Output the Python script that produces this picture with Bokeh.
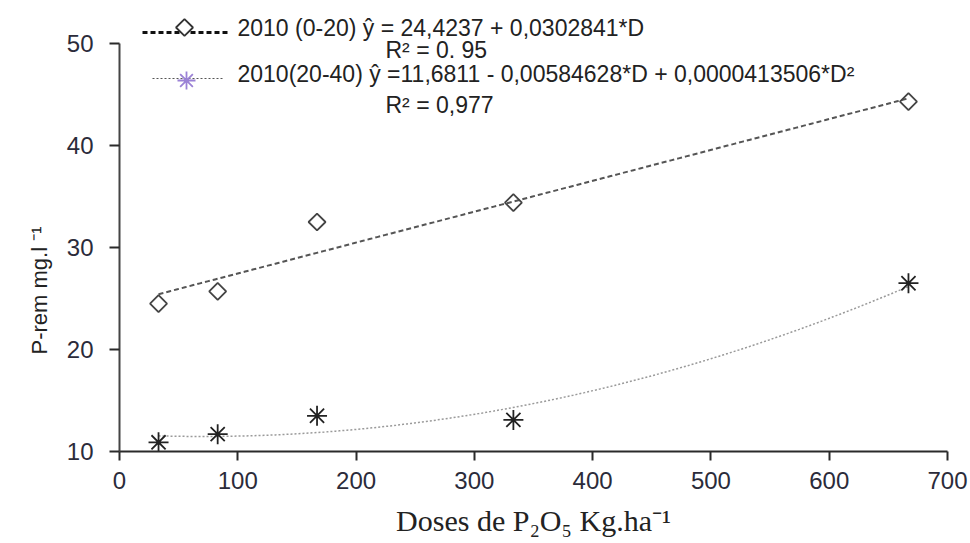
import numpy as np
from bokeh.plotting import figure
from bokeh.models import Range1d, FixedTicker, Title
from bokeh.embed import file_html
from bokeh.resources import INLINE
from bokeh.core.properties import value

# ---- data ----
doses = [33, 83, 167, 333, 667]
prem_0_20 = [24.5, 25.7, 32.5, 34.4, 44.3]
prem_20_40 = [10.9, 11.7, 13.5, 13.1, 26.5]
lin_coef = [24.4237, 0.0302841]                     # y = a + b*D
quad_coef = [11.6811, -0.00584628, 0.0000413506]    # y = a + b*D + c*D^2
x_ticks = [0, 100, 200, 300, 400, 500, 600, 700]
y_ticks = [10, 20, 30, 40, 50]
leg1 = "2010 (0-20) ŷ = 24,4237 + 0,0302841*D"
leg1_r2 = "R² = 0. 95"
leg2 = "2010(20-40) ŷ =11,6811 - 0,00584628*D + 0,0000413506*D²"
leg2_r2 = "R² = 0,977"
x_title = "Doses de P₂O₅ Kg.ha⁻¹"
y_title = "P-rem mg.l ⁻¹"

# ---- layout (pixels) ----
W, H = 970, 543
PX_L, PX_R = 119, 947      # x=0 and x=700
PY_50, PY_10 = 43, 451     # y=50 and y=10
ppu_y = (PY_10 - PY_50) / 40.0
y_top = 10 + PY_10 / ppu_y

def dx(px):
    return (px - PX_L) / (PX_R - PX_L) * 700.0

def dy(py):
    return 10 + (PY_10 - py) / ppu_y

p = figure(width=W, height=H, x_range=Range1d(0, 700), y_range=Range1d(10, y_top),
           output_backend="svg", toolbar_location=None,
           min_border_left=PX_L, min_border_right=W - PX_R,
           min_border_top=0, min_border_bottom=H - PY_10)
p.outline_line_color = None
p.xgrid.visible = False
p.ygrid.visible = False
p.background_fill_color = "white"
p.border_fill_color = "white"

font = "Liberation Sans"
for ax in (p.xaxis[0], p.yaxis[0]):
    ax.axis_line_color = "#2a2a2a"
    ax.axis_line_width = 2
    ax.major_tick_line_color = "#2a2a2a"
    ax.major_tick_line_width = 2
    ax.major_tick_in = 0
    ax.minor_tick_line_color = None
    ax.major_label_text_font = font
    ax.major_label_text_font_size = "24px"
    ax.major_label_text_color = "#2b2b3a"

p.xaxis.ticker = FixedTicker(ticks=x_ticks)
p.xaxis.major_tick_out = 9
p.xaxis.major_label_standoff = 11
p.xaxis.axis_label = x_title
p.xaxis.axis_label_text_font = "Liberation Serif"
p.xaxis.axis_label_text_font_size = "30px"
p.xaxis.axis_label_text_font_style = "normal"
p.xaxis.axis_label_text_color = "#222222"
p.xaxis.axis_label_standoff = 12

p.yaxis.ticker = FixedTicker(ticks=y_ticks)
p.yaxis.bounds = (10, 50)
p.yaxis.major_tick_out = 10
p.yaxis.major_label_standoff = 16
p.yaxis.axis_line_color = "#444444"

# y title as a side title, placed low like the reference
yt = Title(text=y_title, align="left", offset=97, text_font=font,
           text_font_size="22px", text_font_style="normal", text_color="#222222")
if "standoff" in yt.properties():
    yt.standoff = 24
p.add_layout(yt, "left")

# ---- fitted curves ----
D = np.linspace(doses[0], doses[-1], 200)
lin_fit = lin_coef[0] + lin_coef[1] * D
quad_fit = quad_coef[0] + quad_coef[1] * D + quad_coef[2] * D ** 2
p.line(D, lin_fit, line_color="#555555", line_width=2, line_dash="5 3")
p.line(D, quad_fit, line_color="#9a9a9a", line_width=1.5, line_dash="2 2")

# ---- points ----
p.scatter(doses, prem_0_20, marker="square", size=12, angle=np.pi / 4,
          fill_color=None, line_color="#444444", line_width=1.8)
p.scatter(doses, prem_20_40, marker="asterisk", size=20,
          line_color="#222222", line_width=1.8)

# ---- legend drawn by hand ----
p.line([dx(142), dx(230)], [dy(32), dy(32)], line_color="#111111", line_width=3, line_dash="5 3")
p.scatter([dx(184)], [dy(27)], marker="square", size=12, angle=np.pi / 4,
          fill_color="white", line_color="#333333", line_width=1.8)
p.line([dx(152), dx(224)], [dy(78), dy(78)], line_color="#555555", line_width=1.2, line_dash="2 2")
p.scatter([dx(186)], [dy(80)], marker="asterisk", size=18,
          line_color="#9b82d6", line_width=1.8)

txt = dict(text_font=value(font), text_font_size="23px", text_color="#222222",
           text_baseline="middle", text_align="left")
p.text([dx(237)], [dy(27)], text=[leg1], **txt)
p.text([dx(385)], [dy(49)], text=[leg1_r2], **txt)
p.text([dx(237)], [dy(73)], text=[leg2], **txt)
p.text([dx(385)], [dy(104)], text=[leg2_r2], **txt)

open("out.html", "w").write(file_html(p, INLINE))
